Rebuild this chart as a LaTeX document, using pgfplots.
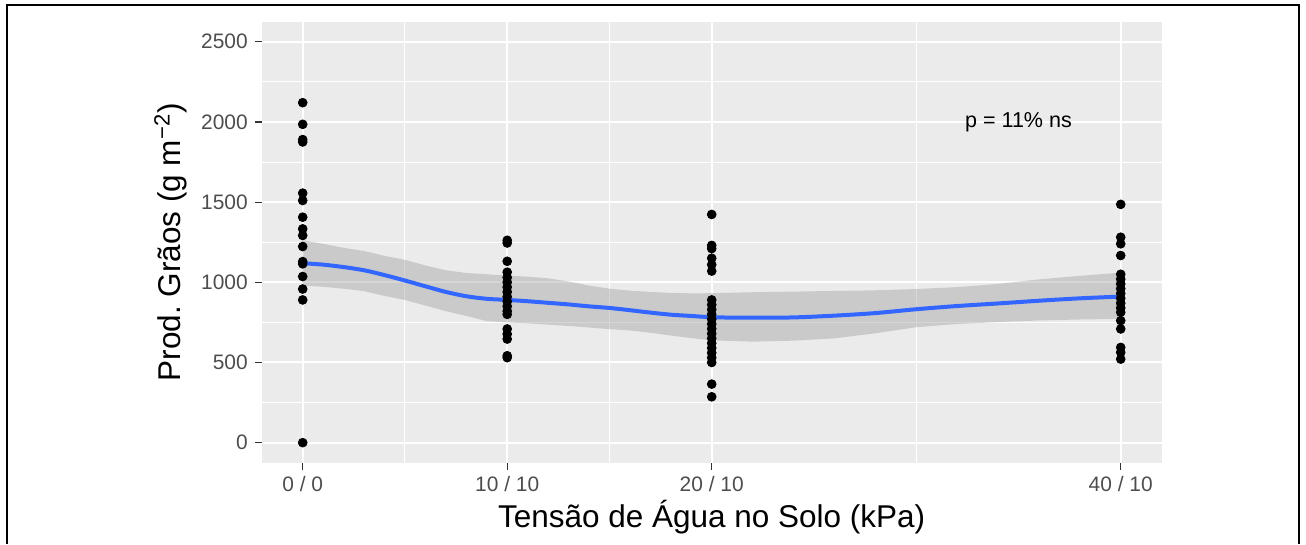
\documentclass[border=0pt]{standalone}
\usepackage{fontspec}
\setmainfont{Liberation Sans}
\usepackage{pgfplots}
\pgfplotsset{compat=1.18}
\definecolor{panelbg}{RGB}{235,235,235}
\definecolor{smoothblue}{RGB}{51,102,255}
\definecolor{ticklab}{RGB}{77,77,77}
\definecolor{tickcol}{RGB}{51,51,51}
\begin{document}
\begin{tikzpicture}[x=1bp,y=1bp]
\path[use as bounding box] (0,0) rectangle (653,272);
\draw[line width=1bp] (3.5,0) -- (3.5,269.5) -- (649.5,269.5) -- (649.5,0);
\begin{axis}[
  at={(130.9bp,40.65bp)}, anchor=south west,
  scale only axis, width=449.9bp, height=220.5bp,
  xmin=-2, xmax=42, ymin=-125, ymax=2625,
  axis background/.style={fill=panelbg},
  axis line style={draw=none},
  xtick={0,10,20,40}, xticklabels={0 / 0, 10 / 10, 20 / 10, 40 / 10},
  ytick={0,500,...,2500},
  minor xtick={5,15,30}, minor ytick={250,750,...,2250},
  grid=both,
  major grid style={white, line width=1bp},
  minor grid style={white, line width=0.5bp},
  tick style={tickcol, line width=0.6bp},
  major tick length=3.5bp, minor tick length=0pt,
  tick align=outside,
  xtick pos=bottom, ytick pos=left,
  scaled ticks=false,
  /pgf/number format/.cd, 1000 sep={}, assume math mode=true, /pgfplots/.cd,
  ticklabel style={font=\fontsize{10.5}{12}\selectfont, text=ticklab},
  xlabel={Tensão de Água no Solo (kPa)},
  ylabel={Prod.\ Grãos (g m\textsuperscript{−2})},
  label style={font=\fontsize{15.8}{18}\selectfont, text=black},
  xlabel style={at={(axis description cs:0.5,-0.148)}, anchor=base},
  ylabel style={at={(axis description cs:-0.0909,0.5)}, rotate=0, anchor=base},
  clip=true,
]
% confidence band
\addplot[draw=none, fill=black!40, fill opacity=0.4] coordinates {
(0,1262) (1,1240) (2,1215) (3,1195) (4,1165) (5,1140) (6,1105) (7,1075) (8,1058) (9,1050) (10,1042) (11,1035) (12,1025) (13,1005) (14,980) (15,960) (16,948) (17,940) (18,934) (19,931) (20,932) (22,938) (24,942) (26,946) (28,950) (30,958) (32,970) (34,990) (36,1018) (38,1040) (40,1060)
(40,772) (38,768) (36,762) (34,752) (32,740) (30,720) (28,682) (26,650) (24,636) (22,630) (20,638) (19,652) (18,668) (17,685) (16,700) (15,708) (14,718) (13,728) (12,736) (11,744) (10,750) (9,758) (8,790) (7,820) (6,855) (5,890) (4,915) (3,945) (2,960) (1,972) (0,979)
} -- cycle;
% loess line
\addplot[smoothblue, line width=2bp, smooth] coordinates {
(0,1119)(1,1110)(2,1095)(3,1075)(4,1045)(5,1011)(6,975)(7,940)(8,913)(9,897)(10,890)(11,882)(12,872)(13,862)(14,850)(15,840)(16,826)(17,811)(18,798)(19,790)(20,782)(21,780)(22,779)(24,781)(26,792)(28,808)(30,832)(32,852)(34,868)(36,885)(38,900)(40,911)
};
% observations
\addplot[only marks, mark=*, mark size=2.2bp, black] coordinates {
(0,0)(0,890)(0,958)(0,1036)(0,1115)(0,1129)(0,1223)(0,1292)(0,1333)(0,1406)(0,1510)(0,1556)(0,1875)(0,1890)(0,1985)(0,2120)
(10,530)(10,542)(10,646)(10,677)(10,709)(10,800)(10,820)(10,850)(10,880)(10,910)(10,940)(10,970)(10,1000)(10,1030)(10,1063)(10,1131)(10,1245)(10,1262)
(20,286)(20,365)(20,500)(20,530)(20,560)(20,590)(20,620)(20,650)(20,680)(20,710)(20,740)(20,770)(20,800)(20,830)(20,860)(20,890)(20,1070)(20,1110)(20,1150)(20,1210)(20,1230)(20,1423)
(40,521)(40,563)(40,594)(40,709)(40,761)(40,813)(40,840)(40,870)(40,900)(40,930)(40,960)(40,990)(40,1020)(40,1050)(40,1167)(40,1240)(40,1281)(40,1486)
};
\node[font=\fontsize{10.8}{13}\selectfont, text=black] at (axis cs:35,2000) {p = 11\% ns};
\end{axis}
\end{tikzpicture}
\end{document}
